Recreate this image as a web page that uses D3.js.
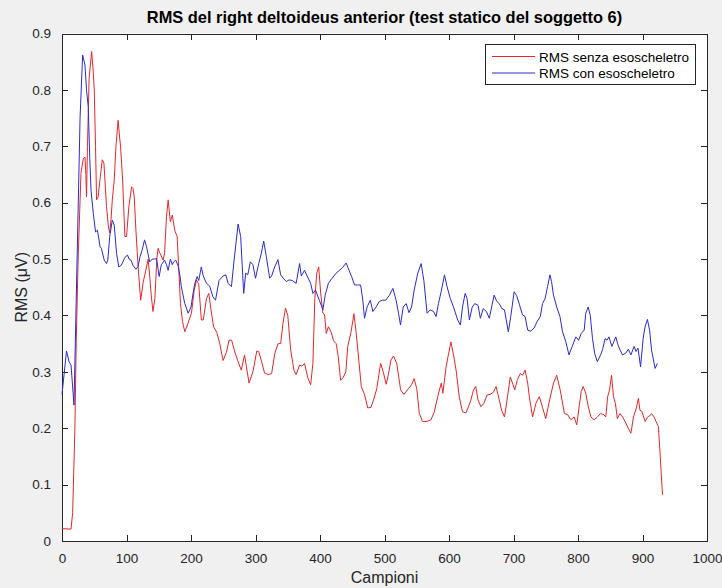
<!DOCTYPE html>
<html>
<head>
<meta charset="utf-8">
<script src="https://cdn.jsdelivr.net/npm/d3@7/dist/d3.min.js"></script>
<style>
  html, body { margin: 0; padding: 0; background: #f0f0f0; }
  svg { display: block; font-family: "Liberation Sans", Arial, Helvetica, sans-serif; }
</style>
</head>
<body>
<svg id="chart" width="722" height="588"></svg>
<script>
// RMS envelope without exoskeleton: [sample, value]
const rmsSenza = [
  [0,0.022],[14,0.021],[16.5,0.05],[20,0.2],[22,0.35],[25,0.5],[29.4,0.652],[33,0.678],[35.6,0.681],
  [37,0.65],[38,0.61],[39.5,0.7],[42,0.82],[46,0.868],[48,0.84],[50,0.8],[52,0.7],[53.6,0.605],
  [56,0.61],[58.8,0.64],[62.4,0.676],[65,0.67],[69,0.593],[71.7,0.56],[74,0.546],[76,0.57],[78,0.605],
  [81,0.64],[83.6,0.699],[87,0.746],[89,0.72],[90.8,0.699],[94,0.64],[97.5,0.54],[100,0.54],
  [103.7,0.593],[107.9,0.628],[110,0.625],[112,0.61],[114.6,0.551],[118,0.486],[122,0.427],[126,0.46],
  [130,0.48],[133.6,0.5],[136,0.47],[138,0.44],[141,0.407],[144,0.43],[147,0.5],[149,0.519],[152,0.51],
  [156.8,0.498],[159,0.51],[162,0.575],[164.6,0.605],[168,0.566],[171,0.578],[175,0.55],[178.5,0.54],
  [183.7,0.421],[186.8,0.389],[190.4,0.371],[195,0.385],[200.7,0.404],[205,0.445],[208.5,0.463],
  [212,0.455],[216,0.392],[219,0.392],[224,0.43],[227.6,0.439],[231,0.41],[235,0.38],[240,0.37],
  [244.6,0.35],[249.7,0.32],[255,0.335],[259,0.356],[263,0.356],[268,0.335],[273,0.318],[278,0.303],
  [283,0.33],[290,0.28],[296,0.3],[302,0.337],[305,0.336],[309,0.32],[314,0.298],[320,0.295],
  [325,0.297],[330,0.333],[335,0.35],[339,0.35],[342.6,0.386],[346.5,0.413],[350,0.4],[354.5,0.339],
  [359.6,0.303],[363,0.295],[368.4,0.312],[372,0.31],[376,0.315],[381,0.29],[385.5,0.277],[389,0.315],
  [392,0.43],[395,0.475],[398,0.486],[401,0.44],[404.5,0.404],[407,0.402],[409.7,0.368],[413,0.38],
  [417.5,0.37],[421,0.355],[425,0.35],[428,0.33],[432,0.285],[436,0.29],[440,0.3],[443,0.345],
  [448,0.37],[452.6,0.403],[456,0.37],[459,0.335],[464,0.274],[469,0.26],[474,0.236],[479,0.237],
  [483,0.25],[488,0.27],[494,0.315],[498,0.3],[502.6,0.278],[506,0.295],[510,0.321],[514,0.328],
  [519,0.315],[525,0.268],[530,0.26],[537,0.27],[542,0.277],[546,0.288],[550,0.27],[554,0.226],
  [559,0.212],[566,0.212],[572,0.215],[577,0.228],[582.5,0.256],[588,0.28],[590.5,0.262],[595.5,0.309],
  [599,0.33],[603,0.353],[607,0.33],[611,0.303],[616,0.255],[621,0.229],[626,0.227],[629.5,0.236],
  [634,0.25],[638,0.268],[641.5,0.274],[645,0.25],[649.6,0.238],[654,0.244],[659,0.259],[664,0.26],
  [669,0.264],[673,0.274],[678,0.25],[681.5,0.232],[686,0.22],[690,0.25],[695,0.291],[699,0.278],
  [702,0.268],[706,0.286],[710.5,0.297],[714,0.294],[718,0.303],[722,0.28],[724.5,0.256],[729.6,0.22],
  [735,0.245],[740,0.256],[745,0.237],[750,0.217],[755,0.245],[762,0.28],[767,0.294],[772,0.27],
  [779,0.226],[784,0.224],[789,0.215],[794,0.22],[798,0.206],[802,0.24],[805,0.265],[808,0.274],
  [812,0.262],[816,0.238],[820,0.22],[825,0.215],[830,0.22],[835,0.226],[840,0.224],[843,0.22],
  [846,0.256],[849,0.268],[852,0.294],[855,0.256],[858,0.244],[861,0.217],[865,0.226],[869,0.22],
  [873,0.212],[878,0.2],[882,0.191],[886,0.22],[890,0.234],[893.7,0.253],[896,0.232],[899,0.23],
  [904,0.212],[908,0.22],[911,0.222],[914,0.226],[918,0.22],[921,0.212],[924.6,0.203],[927,0.16],
  [931,0.082]
];

// RMS envelope with exoskeleton: [sample, value]
const rmsCon = [
  [0,0.26],[7,0.337],[11,0.318],[14,0.312],[18.6,0.241],[23.7,0.516],[28,0.75],[32,0.862],[35.6,0.844],
  [38,0.8],[40.7,0.77],[43,0.68],[45,0.622],[48.5,0.581],[52,0.548],[55,0.551],[59,0.522],[61,0.519],
  [65.5,0.498],[69,0.492],[71,0.498],[74,0.54],[78,0.569],[81,0.56],[84.6,0.51],[88,0.486],[92,0.489],
  [97.5,0.503],[101.6,0.507],[104,0.5],[107,0.498],[110,0.489],[114.5,0.482],[118,0.487],[121,0.504],
  [124,0.515],[128,0.534],[131,0.522],[136,0.495],[140,0.5],[144,0.5],[146.6,0.501],[150.6,0.469],
  [154,0.49],[159,0.498],[162,0.49],[164.6,0.48],[168,0.5],[171,0.49],[173,0.495],[176.5,0.498],
  [180,0.488],[183,0.47],[185,0.451],[190.4,0.421],[195.6,0.404],[200,0.415],[204,0.445],[206,0.457],
  [209.5,0.469],[212,0.462],[216,0.486],[219,0.47],[224,0.457],[229,0.452],[234,0.433],[238,0.427],
  [243.5,0.462],[249.7,0.47],[254,0.472],[257.5,0.457],[262.7,0.451],[266.8,0.498],[273,0.562],
  [277,0.54],[281.7,0.439],[284.8,0.475],[288,0.472],[292,0.495],[296,0.49],[300,0.466],[305,0.492],
  [309,0.51],[312.7,0.532],[316.8,0.504],[322,0.466],[325,0.47],[329.7,0.486],[334.8,0.499],[339,0.472],
  [343,0.466],[347.8,0.46],[352,0.463],[357,0.462],[363,0.457],[368.4,0.492],[371,0.47],[376,0.48],
  [380,0.47],[385.5,0.457],[389,0.439],[393,0.445],[399,0.427],[404.5,0.41],[408,0.436],[413,0.457],
  [418,0.465],[425,0.475],[430,0.48],[435,0.485],[440.6,0.493],[445,0.48],[449,0.469],[453.6,0.454],
  [458,0.454],[463,0.454],[466.4,0.427],[469,0.395],[473,0.415],[478,0.427],[482,0.407],[487,0.415],
  [492,0.425],[497,0.427],[502,0.427],[507.7,0.436],[513,0.448],[518,0.427],[521.7,0.404],[524.8,0.383],
  [529,0.415],[533.6,0.421],[538,0.405],[542,0.415],[546,0.445],[551.6,0.475],[556.8,0.492],[561,0.462],
  [566,0.404],[571,0.41],[576,0.407],[580,0.398],[583.6,0.421],[587.8,0.442],[593,0.472],[597,0.451],
  [602,0.43],[607,0.415],[613.5,0.392],[617.6,0.383],[621,0.415],[625,0.439],[628,0.43],[631.6,0.392],
  [636,0.415],[640,0.421],[645,0.418],[648.6,0.395],[653,0.412],[658,0.407],[662.5,0.395],[667,0.42],
  [670,0.436],[674,0.425],[678,0.421],[682,0.412],[686,0.41],[692,0.371],[696,0.4],[701,0.442],
  [705,0.435],[709,0.42],[714,0.401],[718,0.398],[722,0.374],[727,0.372],[732,0.378],[737,0.39],
  [741.5,0.398],[745,0.421],[749,0.43],[752.8,0.451],[756.5,0.472],[759,0.46],[762,0.436],[767,0.415],
  [772,0.398],[776,0.371],[781,0.354],[786,0.33],[791,0.345],[796.7,0.362],[801,0.356],[805,0.368],
  [809.6,0.374],[812,0.404],[815.8,0.415],[819,0.4],[822.5,0.359],[826,0.332],[830,0.318],[835,0.33],
  [838,0.339],[842,0.359],[845,0.356],[848,0.362],[852.5,0.345],[858.6,0.362],[862,0.348],[865,0.339],
  [869,0.33],[874,0.333],[878,0.34],[882,0.33],[887,0.345],[890,0.336],[893,0.342],[897,0.309],
  [901,0.359],[904,0.38],[907.6,0.393],[911,0.374],[914,0.339],[919.5,0.306],[923,0.315]
];

const xTicks = [0, 100, 200, 300, 400, 500, 600, 700, 800, 900, 1000];
const yTicks = [0, 0.1, 0.2, 0.3, 0.4, 0.5, 0.6, 0.7, 0.8, 0.9];
const seriesNames = ["RMS senza esoscheletro", "RMS con esoscheletro"];
const seriesColors = ["#e8262a", "#2a2ad6"];

const svg = d3.select("#chart");
const margin = { left: 62, right: 15, top: 33.5, bottom: 47 };
const W = 722, H = 588;
const x0 = margin.left, x1 = W - margin.right;
const y0 = H - margin.bottom, y1 = margin.top;

const x = d3.scaleLinear().domain([0, 1000]).range([x0, x1]);
const y = d3.scaleLinear().domain([0, 0.9]).range([y0, y1]);

// axes background
svg.append("rect").attr("x", x0).attr("y", y1)
  .attr("width", x1 - x0).attr("height", y0 - y1).attr("fill", "#fff");

const axisColor = "#262626";
const tickLen = 6;

// bottom axis with inward ticks
const gx = svg.append("g").attr("transform", `translate(0,${y0})`)
  .call(d3.axisBottom(x).tickValues(xTicks).tickFormat(d3.format("d"))
    .tickSizeInner(-tickLen).tickSizeOuter(0).tickPadding(tickLen + 6));
// top axis ticks only
const gxt = svg.append("g").attr("transform", `translate(0,${y1})`)
  .call(d3.axisTop(x).tickValues(xTicks).tickFormat("").tickSizeInner(-tickLen).tickSizeOuter(0));
// left axis
const gy = svg.append("g").attr("transform", `translate(${x0},0)`)
  .call(d3.axisLeft(y).tickValues(yTicks).tickFormat(d => d === 0 ? "0" : d3.format(".1f")(d))
    .tickSizeInner(-tickLen).tickSizeOuter(0).tickPadding(tickLen + 5));
// right axis ticks only
const gyr = svg.append("g").attr("transform", `translate(${x1},0)`)
  .call(d3.axisRight(y).tickValues(yTicks).tickFormat("").tickSizeInner(-tickLen).tickSizeOuter(0));

[gx, gxt, gy, gyr].forEach(g => {
  g.select(".domain").attr("stroke", axisColor).attr("stroke-width", 1).attr("shape-rendering", "crispEdges");
  g.selectAll(".tick line").attr("stroke", axisColor).attr("stroke-width", 1).attr("shape-rendering", "crispEdges");
  g.selectAll("text").attr("fill", axisColor).attr("font-size", 13.5)
    .attr("font-family", "'Liberation Sans', Arial, sans-serif");
});

// series lines
const line = d3.line().x(d => x(d[0])).y(d => y(d[1]));
[rmsSenza, rmsCon].forEach((data, i) => {
  svg.append("path").datum(data)
    .attr("fill", "none")
    .attr("stroke", seriesColors[i])
    .attr("stroke-width", 1)
    .attr("stroke-linejoin", "round")
    .attr("d", line);
});

// title and axis labels
svg.append("text").attr("x", (x0 + x1) / 2).attr("y", 23)
  .attr("text-anchor", "middle").attr("font-size", 16.4).attr("font-weight", "bold")
  .attr("fill", "#000")
  .text("RMS del right deltoideus anterior (test statico del soggetto 6)");

svg.append("text").attr("x", (x0 + x1) / 2).attr("y", 583)
  .attr("text-anchor", "middle").attr("font-size", 16).attr("fill", axisColor)
  .text("Campioni");

svg.append("text")
  .attr("transform", `translate(27,${(y0 + y1) / 2}) rotate(-90)`)
  .attr("text-anchor", "middle").attr("font-size", 16).attr("fill", axisColor)
  .text("RMS (μV)");

// legend
const lg = svg.append("g");
const lgX = 485, lgY = 44, lgW = 210, lgH = 40;
lg.append("rect").attr("x", lgX).attr("y", lgY).attr("width", lgW).attr("height", lgH)
  .attr("fill", "#fff").attr("stroke", axisColor).attr("stroke-width", 1)
  .attr("shape-rendering", "crispEdges");
seriesNames.forEach((name, i) => {
  const cy = lgY + 12.5 + i * 16.5;
  lg.append("line").attr("x1", lgX + 7).attr("x2", lgX + 50)
    .attr("y1", cy).attr("y2", cy)
    .attr("stroke", seriesColors[i]).attr("stroke-width", 1);
  lg.append("text").attr("x", lgX + 54).attr("y", cy + 5)
    .attr("font-size", 13.5).attr("fill", "#000").text(name);
});
</script>
</body>
</html>
